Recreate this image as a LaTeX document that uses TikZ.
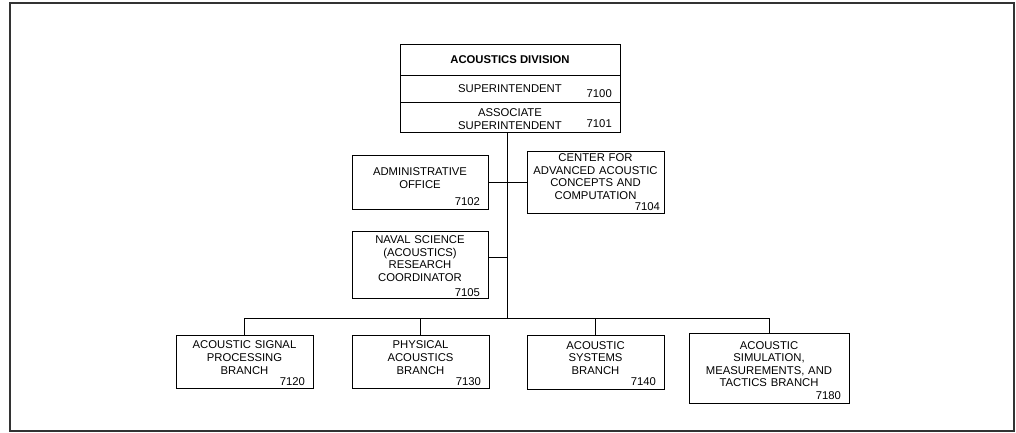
\documentclass[tikz,border=0pt]{standalone}
\usepackage{fontspec}
\setmainfont{Liberation Sans}

\tikzset{
  unit/.style={draw, line width=0.8pt, align=center, inner xsep=8pt, inner ysep=0pt,
    font=\fontsize{11.3}{12.6}\selectfont},
  num/.style={inner sep=0pt, font=\fontsize{11.3}{12.6}\selectfont},
  link/.style={line width=0.8pt},
}

\begin{document}
\begin{tikzpicture}[x=1pt, y=-1pt]
\useasboundingbox (0,0) rectangle (1016,433);
\draw[line width=2pt, black!80] (10,3) rectangle (1014,431);

% division head
\node[unit, minimum width=220pt, minimum height=31pt, font=\fontsize{11.3}{12.6}\selectfont\bfseries] (div) at (510,59.5) {ACOUSTICS DIVISION};
\node[unit, minimum width=220pt, minimum height=27pt] (sup) at (510,88.5) {SUPERINTENDENT};
\node[unit, minimum width=220pt, minimum height=30pt] (asup) at (510,117) {\rule{0pt}{12.5pt}ASSOCIATE\\SUPERINTENDENT};
\node[num, anchor=base east] (n7100) at (612,98) {7100};
\node[num, anchor=base east] (n7101) at (612,128) {7101};

% staff offices
\node[unit, minimum width=136pt, minimum height=54pt, text width=120pt] (adm) at (420,182)
  {\rule{0pt}{17pt}ADMINISTRATIVE\\OFFICE\\[4.1pt]\hfill 7102};
\node[unit, minimum width=137pt, minimum height=62pt, inner xsep=4pt, text width=129pt] (ctr) at (595.5,182)
  {CENTER FOR\\ADVANCED ACOUSTIC\\CONCEPTS AND\\COMPUTATION\\[-1.9pt]\hfill 7104\hspace*{4pt}};
\node[unit, minimum width=136pt, minimum height=67pt, text width=120pt] (nav) at (420,264.5)
  {\rule{0pt}{11pt}NAVAL SCIENCE\\(ACOUSTICS)\\RESEARCH\\COORDINATOR\\[2.4pt]\hfill 7105};

% branches
\node[unit, minimum width=137pt, minimum height=53pt, text width=121pt] (b1) at (244.5,361.5)
  {\rule{0pt}{11pt}ACOUSTIC SIGNAL\\PROCESSING\\BRANCH\\[-1.6pt]\hfill 7120};
\node[unit, minimum width=137pt, minimum height=53pt, text width=121pt] (b2) at (420.5,361.5)
  {\rule{0pt}{11pt}PHYSICAL\\ACOUSTICS\\BRANCH\\[-1.6pt]\hfill 7130};
\node[unit, minimum width=137pt, minimum height=54pt, text width=121pt] (b3) at (595.5,362)
  {\rule{0pt}{11pt}ACOUSTIC\\SYSTEMS\\BRANCH\\[-1.6pt]\hfill 7140};
\node[unit, minimum width=160pt, minimum height=70pt, text width=144pt] (b4) at (769,368)
  {\rule{0pt}{13pt}ACOUSTIC\\SIMULATION,\\MEASUREMENTS, AND\\TACTICS BRANCH\\[0.4pt]\hfill 7180\hspace*{8pt}};

% lines
\coordinate (hub) at (507,318);
\draw[link] (asup.south -| hub) -- (hub);
\draw[link] (adm.east) -- (ctr.west);
\draw[link] ([yshift=7.5pt]nav.east) -- ([yshift=7.5pt]nav.east -| hub);
\draw[link] (b1.north |- hub) -- (b4.north |- hub);
\foreach \b in {b1,b2,b3,b4}
  \draw[link] (\b.north |- hub) -- (\b.north);
\end{tikzpicture}
\end{document}
